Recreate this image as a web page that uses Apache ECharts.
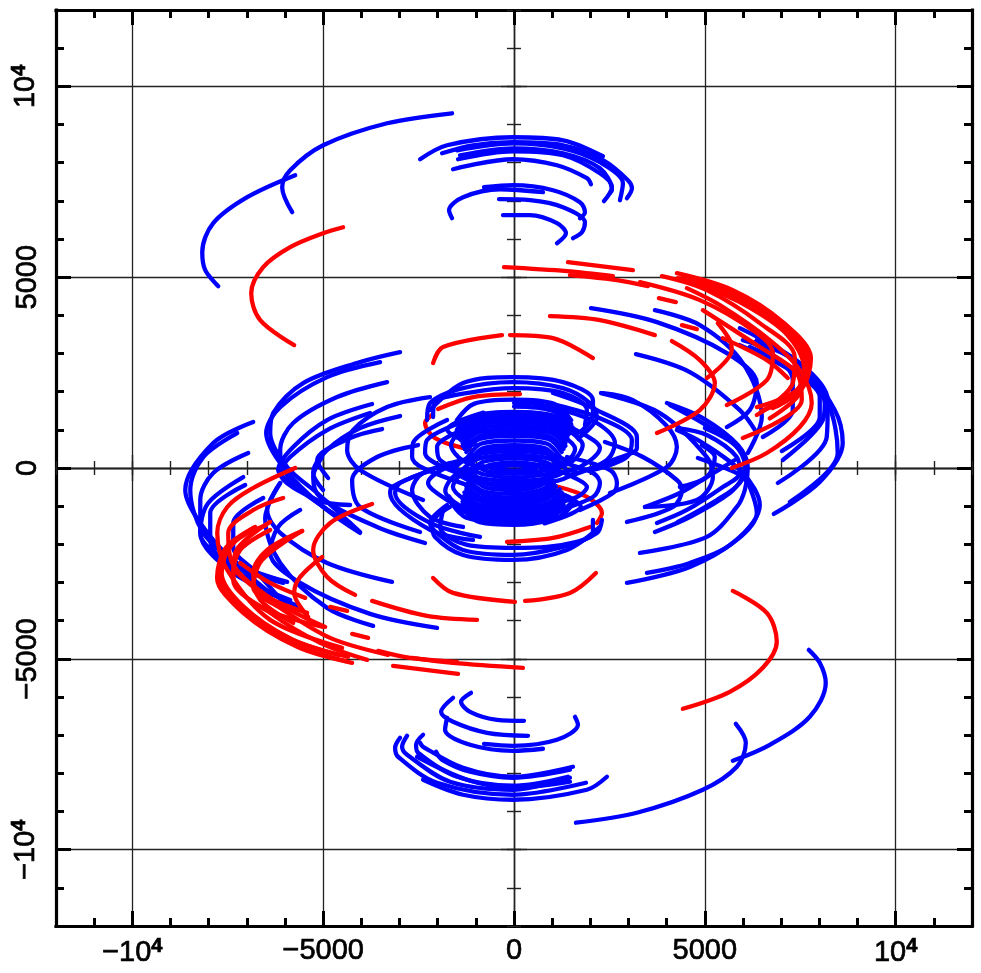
<!DOCTYPE html>
<html>
<head>
<meta charset="utf-8">
<style>html,body{margin:0;padding:0;background:#fff}#main{width:981px;height:973px}</style>
<script src="https://cdn.jsdelivr.net/npm/echarts@6/dist/echarts.min.js"></script>
</head>
<body>
<div id="main"></div>
<script>
// tick values
const majorTicks = [-10000, -5000, 0, 5000, 10000];

// blue arcs outside the central blob, top and bottom clusters
const blueOuterTop = [
  [[-1623,9294],[-3325,9032],[-5000,8456],[-5864,7802],[-6074,7357],[-5812,6702]],
  [[-5733,7671],[-6990,7095],[-7880,6414],[-8168,5655],[-8090,5184],[-7749,4765]],
  [[-2460,8090],[-1754,8456],[-26,8666],[1283,8587],[2330,8168]],
  [[-1885,8247],[-1073,8456],[-26,8535],[1283,8456],[2330,8063],[2985,7540],[3090,7330],[2958,7069]],
  [[-1492,8325],[-26,8509],[1283,8377],[2250,8011],[2854,7461],[2775,7016]],
  [[-1414,8194],[-26,8377],[1283,8247],[2250,7854],[2566,7278],[2513,7200]],
  [[-1466,8090],[-26,8299],[1283,8194],[2250,7723],[2566,7356],[2356,6990]],
  [[-1597,7828],[-26,8090],[1126,7932],[1911,7592],[2016,7435]],
  [[-785,7356],[-26,7409],[1021,7278],[1728,6964],[1859,6702],[1728,6545]],
  [[-1623,6545],[-1702,6754],[-1335,7095],[-367,7304],[760,7226]],
  [[-393,7043],[419,7016],[1283,6833],[1859,6440],[1780,6178],[1545,6021]],
  [[-288,6623],[419,6623],[1126,6414],[1361,6152],[1126,5890]]
];
const blueOuterBottom = [
  [[1623,-9294],[3220,-9032],[4948,-8430],[5838,-7828],[6074,-7200],[5812,-6702]],
  [[5733,-7671],[6702,-7252],[7749,-6519],[8168,-5629],[8011,-5105],[7723,-4765]],
  [[2435,-8090],[1911,-8430],[-26,-8692],[-1335,-8561],[-2382,-8168]],
  [[1885,-8247],[-26,-8561],[-2016,-8247],[-3037,-7566],[-3115,-7330],[-2985,-7069]],
  [[1466,-8116],[-26,-8430],[-1676,-8220],[-2801,-7514],[-2932,-7304],[-2801,-7016]],
  [[1414,-8090],[-26,-8325],[-1492,-8090],[-2513,-7461],[-2566,-7252],[-2382,-6990]],
  [[1545,-7828],[-26,-8090],[-1335,-7854],[-2382,-7304],[-2461,-7200]],
  [[1466,-8220],[-26,-8377],[-1230,-8168],[-2540,-7566]],
  [[-2042,-7435],[-1885,-7645],[-1152,-7958],[-26,-8116],[1466,-7906]],
  [[759,-7356],[-26,-7409],[-1152,-7252],[-1806,-6859],[-1754,-6545]],
  [[-785,-7226],[-26,-7278],[1126,-7121],[1676,-6728],[1597,-6519]],
  [[367,-7016],[-707,-6938],[-1597,-6650],[-1911,-6388],[-1597,-6021]],
  [[262,-6623],[-445,-6597],[-1152,-6388],[-1388,-6126],[-1126,-5890]]
];

// blue arcs of the right wing
const blueRight = [
  [[2016,4189],[3744,3822],[5576,3011],[6362,2225],[6178,1518],[5576,1073]],
  [[3691,4136],[4870,3744],[5995,2749],[6493,1335],[6126,393]],
  [[3194,2984],[4608,2513],[5917,1518],[6362,916]],
  [[6807,-1204],[8011,-367],[8613,654],[8404,1518],[7487,2749],[5917,3665]],
  [[7226,-890],[8482,393],[8220,1702],[7304,2827],[6362,3351]],
  [[6912,-393],[8194,812],[8220,1780],[7487,2749],[6310,3299]],
  [[7043,209],[8090,1257],[8142,1702],[7487,2487],[6179,3168]],
  [[7016,445],[8011,1335],[8011,1859],[7226,2565],[5917,3220]],
  [[6519,812],[7304,1518],[7304,2304],[6624,3089],[5995,3351]],
  [[4005,1702],[4948,1309],[5864,602],[6126,0],[6048,-576],[5838,-1021],[5053,-1806],[3299,-2225]],
  [[4267,995],[4948,655],[5995,-131],[6440,-969],[5733,-1964],[4608,-2487],[3482,-2749]],
  [[4817,262],[5655,-52],[5995,-236],[6178,-497],[6362,-1178],[5838,-1885],[4608,-2592],[2958,-3011]],
  [[3691,-1676],[4608,-1283],[5655,-655],[5995,-236],[6100,131],[5733,655],[4948,1178],[4084,1649]],
  [[3744,-1440],[4529,-1100],[5471,-497],[5917,-131],[5838,288],[5053,864],[4293,1047]],
  [[4293,-1414],[5315,-838],[5917,-393],[6048,79],[5786,602],[5000,1047]],
  [[3430,-1021],[4346,-655],[5053,-236],[5786,209]],
  [[4922,602],[5262,288],[5053,-236],[4346,-497]],
  [[2278,1964],[3822,1440],[5053,288],[5210,-236],[4791,-838],[3430,-1021]],
  [[2330,1960],[3115,1780],[3981,1126],[4267,550],[4005,26],[2513,-655]],
  [[2382,681],[3377,288],[4267,-314],[4398,-576],[4162,-1021],[2958,-1414]]
];

// blue arcs of the left wing
const blueLeft = [
  [[-6833,1204],[-7880,654],[-8613,-576],[-8220,-1440],[-7252,-2487],[-5943,-2985]],
  [[-7252,916],[-8142,288],[-8482,-576],[-8142,-1702],[-7173,-2618],[-6336,-3325]],
  [[-2016,-4189],[-3770,-3822],[-5602,-3011],[-6388,-2225],[-6178,-1545],[-5602,-1100]],
  [[-3194,-2984],[-4896,-2487],[-6126,-1702],[-6466,-1100],[-6126,-393]],
  [[-3691,-4136],[-4896,-3665],[-6126,-2487],[-6519,-1309],[-6126,-393]],
  [[-6964,393],[-7880,-131],[-8220,-838],[-8220,-1702],[-7252,-2592],[-6048,-3011]],
  [[-7095,-236],[-8011,-916],[-8220,-1702],[-7356,-2749],[-5864,-3456]],
  [[-7043,-445],[-7959,-1178],[-7959,-1885],[-6833,-3011],[-5602,-3639]],
  [[-6571,-785],[-7356,-1440],[-7356,-2068],[-6728,-2749],[-5917,-3665]],
  [[-2985,3037],[-4032,2775],[-5524,2225],[-6310,1440],[-6388,916],[-5943,26],[-5157,-655],[-4032,-1676]],
  [[-3508,2775],[-4896,2382],[-6126,1597],[-6493,916],[-6048,26],[-5000,-1021],[-4294,-1440]],
  [[-3325,2251],[-4634,1859],[-5786,1178],[-6126,471],[-6048,-52],[-4896,-1100],[-4032,-1702]],
  [[-3718,1676],[-4896,1257],[-5786,550],[-6179,-52],[-5864,-393],[-4372,-1440]],
  [[-3770,1440],[-4896,995],[-5864,288],[-6126,-131],[-5157,-838],[-4294,-969]],
  [[-2985,1361],[-4032,1047],[-4896,471],[-5262,-131],[-5000,-576]],
  [[-3456,1021],[-4294,785],[-5157,209],[-4870,-262]],
  [[-2199,1859],[-3325,1597],[-4215,995],[-4372,471],[-4032,-52],[-2382,-838]],
  [[-2513,602],[-3587,288],[-4241,-314],[-4032,-1021],[-2461,-1676]],
  [[-2330,-1964],[-3587,-1545],[-5079,-759],[-5262,-236],[-5026,288]]
];

// red arcs
const redArcs = [
  [[-4477,6309],[-5000,6152],[-5864,5786],[-6571,5262],[-6885,4581],[-6650,3875],[-5760,3220]],
  [[4424,-6309],[5655,-5864],[6519,-5236],[6885,-4555],[6624,-3796],[5733,-3220]],
  [[-262,5262],[1388,5157],[2592,5026]],
  [[1414,5393],[3115,5184]],
  [[1466,5052],[2696,4922],[3508,4765]],
  [[3299,4870],[4870,4398],[6362,3534],[6781,3011],[6624,2304],[5576,1649]],
  [[3875,5026],[5053,4660],[6440,3796],[7356,2906],[7304,2225],[6362,1388]],
  [[4267,5105],[5733,4660],[7043,3822],[7749,2906],[7487,2042],[6781,1571]],
  [[4400,5060],[5800,4600],[7100,3760],[7780,2880],[7560,2100],[6900,1620]],
  [[4293,4974],[5733,4529],[7043,3691],[7697,2827],[7409,2042],[6362,1597]],
  [[4600,4900],[5900,4450],[7100,3620],[7660,2760],[7380,1980],[6500,1500]],
  [[4800,4800],[6000,4300],[7150,3500],[7600,2600],[7450,1900],[6700,1300]],
  [[5707,0],[6624,393],[7487,1073],[7801,1702],[7487,2565],[6702,3351],[5393,4267],[4529,4712]],
  [[4948,4136],[6440,3168],[7409,2487],[7540,1780],[5995,785]],
  [[5340,3796],[5655,3351],[5707,3089],[5053,2356]],
  [[5471,3403],[6624,2827],[7173,2356]],
  [[4136,3325],[4870,2827],[5262,2225],[4870,1518],[3744,916]],
  [[942,3979],[2251,3875],[3691,3482]],
  [[4398,3744],[4791,3639]],
  [[3796,4450],[4241,4346]],
  [[-2120,2749],[-1859,3168],[-314,3482]],
  [[-105,3482],[1021,3403],[2068,2880]],
  [[-1990,1545],[-1073,1859],[157,1937]],
  [[-2147,1388],[-2330,1178],[-2068,785],[-1100,471]],
  [[1073,-471],[1911,-759],[2304,-1178],[2173,-1440]],
  [[-183,-1937],[1021,-1833],[1990,-1545]],
  [[236,-5236],[-1597,-5105],[-2670,-4974]],
  [[-3168,-5184],[-1466,-5393]],
  [[-1492,-5079],[-2723,-4974],[-3560,-4791]],
  [[-3299,-4896],[-4817,-4451],[-6126,-3665],[-6833,-3115],[-6597,-2409],[-5550,-1649]],
  [[-3848,-5026],[-5079,-4581],[-6388,-3796],[-7356,-2932],[-7304,-2225],[-6388,-1414]],
  [[-4241,-5105],[-5681,-4686],[-7095,-3796],[-7749,-2854],[-7435,-2068],[-6833,-1571]],
  [[-4400,-5060],[-5800,-4600],[-7100,-3760],[-7780,-2880],[-7560,-2100],[-6900,-1620]],
  [[-4346,-4948],[-5786,-4503],[-7095,-3665],[-7697,-2723],[-7435,-2016],[-6781,-1545]],
  [[-4600,-4900],[-5900,-4450],[-7100,-3620],[-7660,-2760],[-7380,-1980],[-6500,-1500]],
  [[-5733,0],[-6833,-524],[-7513,-1021],[-7775,-1702],[-7513,-2670],[-6388,-3979],[-4503,-4712]],
  [[-4948,-4163],[-6310,-3456],[-7383,-2487],[-7487,-1702],[-6833,-1100],[-6048,-785]],
  [[-5026,-2330],[-5602,-2854],[-5760,-3272],[-5393,-3901]],
  [[-5550,-1649],[-6466,-2147],[-6833,-2749],[-6650,-3456],[-5786,-4058]],
  [[-6388,-1623],[-7173,-2147],[-7356,-2854],[-6650,-3639],[-5000,-4163]],
  [[-5419,-3796],[-6466,-3377],[-7252,-2749]],
  [[-5471,-3403],[-6388,-3011],[-7173,-2487]],
  [[-3718,-942],[-4817,-1440],[-5262,-2147],[-4896,-2854],[-4163,-3325]],
  [[-969,-3979],[-2278,-3875],[-3718,-3482]],
  [[-4817,-3639],[-4372,-3744]],
  [[-4241,-4346],[-3822,-4451]],
  [[-2120,-2880],[-1597,-3272],[26,-3508]],
  [[288,-3482],[1466,-3272],[2147,-2749]]
];

// blue rings around the middle, upper half then lower half
const blueRingsUpper = [
  [[-2199,1518],[-1335,2225],[-26,2382],[1283,2251],[2068,1780],[2068,1388],[1728,942]],
  [[-2278,1257],[-2199,1702],[-1335,2094],[-26,2251],[1283,2094],[1990,1702],[2173,1335],[1728,812]],
  [[-2120,1335],[-2068,1728],[-1073,1990],[-26,2094],[1283,1964],[1911,1518],[1859,1126]],
  [[1021,1964],[2173,1518],[3220,812],[3220,524],[2592,209],[1649,-131]],
  [[864,1702],[2173,1335],[3089,733],[2958,288],[2068,-52]],
  [[1283,1518],[2173,1178],[2644,655],[2435,209],[1388,-236]],
  [[864,1309],[1728,942],[2251,524],[1728,26],[864,-183]],
  [[-1754,1257],[-2644,655],[-2670,288],[-2382,0],[-1073,-497]],
  [[-1414,1178],[-2278,733],[-2330,393],[-1859,26],[-890,-314]],
  [[-1152,1073],[-2016,550],[-1937,209],[-1230,-131]],
  [[700,1300],[1400,1000],[1800,600],[1500,150],[800,-50]],
  [[600,1100],[1250,850],[1600,500],[1300,100],[700,-20]],
  [[-800,1450],[-1500,1200],[-1750,1000],[-1500,800],[-1000,600]],
  [[-700,1300],[-1400,950],[-1650,600],[-1350,200],[-800,0]]
];
const blueRingsLower = [
  [[2251,-1545],[1388,-2147],[-26,-2408],[-1335,-2278],[-2068,-1807],[-2147,-1440],[-1676,-1021]],
  [[2304,-1361],[2173,-1702],[1283,-2068],[-26,-2278],[-1335,-2147],[-2016,-1702],[-2199,-1440],[-1754,-969]],
  [[2068,-1361],[2068,-1702],[864,-2068],[-26,-2094],[-1230,-2016],[-1937,-1545],[-1859,-1100]],
  [[-1073,-1885],[-2199,-1623],[-3246,-655],[-3194,-497],[-2644,-236],[-1676,131]],
  [[-890,-1807],[-2199,-1440],[-3115,-655],[-2985,-393],[-2120,-52]],
  [[-1335,-1545],[-2199,-1283],[-2670,-576],[-2382,-131],[-1335,209]],
  [[-890,-1361],[-1754,-838],[-2251,-393],[-1754,26],[-890,288]],
  [[1388,288],[2513,-52],[2697,-393],[2592,-655],[1728,-1100]],
  [[1021,209],[2068,-131],[2251,-393],[2068,-760],[942,-1178]],
  [[681,131],[1597,-262],[1911,-497],[1649,-760],[864,-969]],
  [[-700,-1300],[-1400,-1000],[-1800,-600],[-1500,-150],[-800,50]],
  [[-600,-1100],[-1250,-850],[-1600,-500],[-1300,-100],[-700,20]],
  [[800,-1450],[1500,-1200],[1750,-1000],[1500,-800],[1000,-600]],
  [[700,-1300],[1350,-1050],[1550,-850],[1350,-720],[950,-560]]
];

// the densest bands of the blob
const blueCoreUpper = [
  [[-1500,1250],[-1050,1680],[0,1790],[1050,1680],[1500,1250]],
  [[0,1700],[1000,1590],[1500,1150]],
  [[0,1610],[1000,1500],[1480,1080]],
  [[-1500,1000],[-1200,1300],[0,1450],[1250,1300],[1650,900]],
  [[-1550,850],[-1250,1150],[0,1300],[1300,1150],[1700,750]],
  [[-1450,1000],[-1000,1380],[0,1470],[1000,1380],[1450,1000]],
  [[-1450,900],[-1000,1290],[0,1380],[1000,1290],[1450,900]],
  [[-1400,820],[-980,1200],[0,1290],[980,1200],[1400,820]],
  [[-1400,740],[-980,1110],[0,1200],[980,1110],[1400,740]],
  [[-1350,660],[-950,1020],[0,1110],[950,1020],[1350,660]],
  [[-1350,580],[-950,930],[0,1020],[950,930],[1350,580]],
  [[-1300,500],[-900,840],[0,930],[900,840],[1300,500]],
  [[-1250,420],[-900,760],[0,840],[900,760],[1250,420]],
  [[-1200,300],[-850,640],[0,720],[850,640],[1200,300]],
  [[-1150,200],[-800,520],[0,600],[800,520],[1150,200]],
  [[-1100,100],[-800,430],[0,510],[800,430],[1100,100]]
];
const blueCoreLower = [
  [[1500,-1000],[1150,-1300],[0,-1450],[-1250,-1300],[-1650,-900]],
  [[1550,-850],[1200,-1150],[0,-1300],[-1300,-1150],[-1700,-750]],
  [[1250,-1050],[900,-1370],[0,-1490],[-900,-1420],[-1350,-1050]],
  [[1300,-950],[900,-1280],[0,-1400],[-900,-1330],[-1350,-950]],
  [[1300,-880],[900,-1190],[0,-1310],[-900,-1240],[-1350,-880]],
  [[1300,-800],[900,-1100],[0,-1220],[-900,-1150],[-1350,-800]],
  [[1250,-720],[850,-1020],[0,-1130],[-900,-1060],[-1300,-720]],
  [[1250,-640],[850,-930],[0,-1040],[-900,-970],[-1300,-640]],
  [[1200,-560],[800,-840],[0,-950],[-850,-880],[-1250,-560]],
  [[1100,-480],[800,-750],[0,-860],[-850,-790],[-1250,-480]],
  [[1050,-380],[800,-650],[0,-770],[-800,-700],[-1200,-380]],
  [[1000,-300],[750,-560],[0,-680],[-800,-610],[-1200,-300]],
  [[950,-200],[700,-460],[0,-580],[-750,-510],[-1150,-200]],
  [[900,-120],[650,-370],[0,-500],[-700,-420],[-1100,-120]]
];
// small rings round the origin
const blueCoreMiddle = [
  [[-1600,-60],[-1150,300],[0,440],[1150,300],[1600,-60],[1150,-330],[0,-430],[-1150,-330],[-1600,-60]],
  [[-1350,-40],[-950,240],[0,340],[950,240],[1350,-40],[950,-250],[0,-340],[-950,-250],[-1350,-40]],
  [[-1100,-30],[-780,170],[0,250],[780,170],[1100,-30],[780,-170],[0,-250],[-780,-170],[-1100,-30]],
  [[-850,-20],[-600,90],[0,150],[600,90],[850,-20],[600,-110],[0,-150],[-600,-110],[-850,-20]],
  [[-600,0],[-400,40],[0,70],[400,40],[600,0],[400,-50],[0,-70],[-400,-50],[-600,0]]
];

const FONT = '"Liberation Sans", Arial, sans-serif';

function tickLabel(v) {
  if (v === 10000) return '10{sup|4}';
  if (v === -10000) return '\u221210{sup|4}';
  return v < 0 ? '\u2212' + (-v) : String(v);
}

// one value axis of -12000..12000; the frame, the major ticks and the crosshair are all separate axes
function makeAxis(position, opt) {
  return {
    type: 'value',
    position: position,
    min: -12000,
    max: 12000,
    interval: 1000,
    axisLine: {
      show: opt.line !== 0,
      onZero: !!opt.center,
      lineStyle: { color: opt.center ? '#222' : '#000', width: opt.line || 1, cap: 'square' }
    },
    axisTick: {
      show: true,
      inside: opt.inside,
      length: opt.length,
      customValues: opt.major ? majorTicks : undefined,
      lineStyle: { color: opt.center ? '#222' : '#000', width: opt.center ? 1.4 : 3 }
    },
    axisLabel: { show: false },
    splitLine: { show: false },
    minorTick: { show: false }
  };
}

function axesFor(lowSide, highSide, labelOpt) {
  const low = makeAxis(lowSide, { line: 3.2, inside: true, length: 8 });
  low.axisLabel = Object.assign({
    show: true,
    customValues: majorTicks,
    formatter: tickLabel,
    color: '#000',
    fontFamily: FONT,
    fontSize: 29,
    textBorderColor: '#000',
    textBorderWidth: 0.7,
    rich: { sup: { fontFamily: FONT, fontSize: 20, fontWeight: 'bold', verticalAlign: 'bottom', padding: [0, 0, 13, 0], color: '#000' } }
  }, labelOpt);
  const lowMajor = makeAxis(lowSide, { line: 0, inside: true, length: 15, major: true });
  // grid lines
  lowMajor.splitLine = { show: true, lineStyle: { color: '#222', width: 1.3 } };
  return [
    low,
    lowMajor,
    makeAxis(highSide, { line: 3.2, inside: true, length: 8 }),
    makeAxis(highSide, { line: 0, inside: true, length: 15, major: true }),
    makeAxis(lowSide, { center: true, line: 1.3, inside: true, length: 7 }),
    makeAxis(lowSide, { center: true, line: 1.3, inside: false, length: 7 }),
    makeAxis(lowSide, { center: true, line: 0, inside: true, length: 13, major: true }),
    makeAxis(lowSide, { center: true, line: 0, inside: false, length: 13, major: true })
  ];
}

function arcSeries(arcs, color) {
  return arcs.map(function (points) {
    return {
      type: 'line',
      data: points,
      smooth: 0.33,
      symbol: 'none',
      silent: true,
      clip: true,
      animation: false,
      lineStyle: { color: color, width: 4.3, cap: 'round', join: 'round' }
    };
  });
}

var myChart = echarts.init(document.getElementById('main'), null, { renderer: 'canvas' });

var option = {
  animation: false,
  backgroundColor: '#fff',
  grid: { left: 56, right: 9, top: 10, bottom: 47, containLabel: false },
  xAxis: axesFor('bottom', 'top', { margin: 10 }),
  yAxis: axesFor('left', 'right', { margin: 14, rotate: 90 }),
  series: [].concat(
    arcSeries(blueOuterTop, '#0000ff'),
    arcSeries(blueOuterBottom, '#0000ff'),
    arcSeries(blueRight, '#0000ff'),
    arcSeries(blueLeft, '#0000ff'),
    arcSeries(redArcs, '#ff0000'),
    arcSeries(blueRingsUpper, '#0000ff'),
    arcSeries(blueRingsLower, '#0000ff'),
    arcSeries(blueCoreMiddle, '#0000ff'),
    arcSeries(blueCoreUpper, '#0000ff'),
    arcSeries(blueCoreLower, '#0000ff')
  )
};

myChart.setOption(option);
</script>
</body>
</html>
